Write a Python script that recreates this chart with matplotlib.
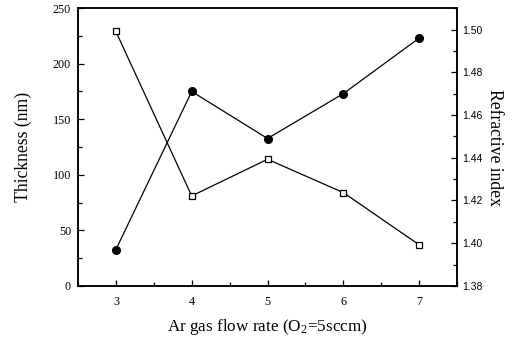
import numpy as np
import matplotlib
matplotlib.use("Agg")
import matplotlib.pyplot as plt
from matplotlib.ticker import MultipleLocator

plt.rcParams['font.family'] = 'Liberation Serif'
plt.rcParams['mathtext.fontset'] = 'stix'

# Ar flow rate (sccm)
flow = [3, 4, 5, 6, 7]
# film thickness (nm), open squares
thickness = [229, 81, 114, 84, 37]
# refractive index, filled circles
ref_index = [1.397, 1.471, 1.449, 1.470, 1.496]

fig = plt.figure(figsize=(5.13, 3.40), dpi=100)
ax = fig.add_axes([0.152, 0.159, 0.739, 0.817])
ax2 = ax.twinx()

ax.plot(flow, thickness, color='black', lw=0.9, marker='s', ms=4.5,
        mfc='white', mec='black', mew=0.9)
ax2.plot(flow, ref_index, color='black', lw=0.9, marker='o', ms=5.5,
         mfc='black', mec='black')

ax.set_xlim(2.5, 7.5)
ax.set_ylim(0, 250)
ax2.set_ylim(1.38, 1.51)

ax.xaxis.set_major_locator(MultipleLocator(1))
ax.xaxis.set_minor_locator(MultipleLocator(0.5))
ax.yaxis.set_major_locator(MultipleLocator(50))
ax.yaxis.set_minor_locator(MultipleLocator(25))
ax2.yaxis.set_major_locator(MultipleLocator(0.02))
ax2.yaxis.set_minor_locator(MultipleLocator(0.01))
ax2.yaxis.set_major_formatter(plt.FormatStrFormatter('%.2f'))

ax.tick_params(which='both', direction='in', top=False, right=False, labelsize=8.7)
ax.tick_params(axis='x', pad=7)
ax.tick_params(axis='y', pad=5)
ax.tick_params(which='major', length=4, width=0.9)
ax.tick_params(which='minor', length=3, width=0.9)
ax2.tick_params(which='both', direction='in', labelsize=8, width=0.9)
ax2.tick_params(which='major', length=4)
ax2.tick_params(which='minor', length=3)
for lab in ax2.get_yticklabels():
    lab.set_family('Liberation Sans')
    lab.set_fontsize(7.5)

for a in (ax, ax2):
    for s in a.spines.values():
        s.set_linewidth(1.1)

ax.set_xlabel('Ar gas flow rate (O$_{\\mathregular{2}}$=5sccm)', fontsize=12.3, labelpad=7)
ax.set_ylabel('Thickness (nm)', fontsize=12.7, labelpad=15)
ax2.set_ylabel('Refractive index', fontsize=12.7, rotation=270, labelpad=15)

fig.savefig('out.png', dpi=100)
